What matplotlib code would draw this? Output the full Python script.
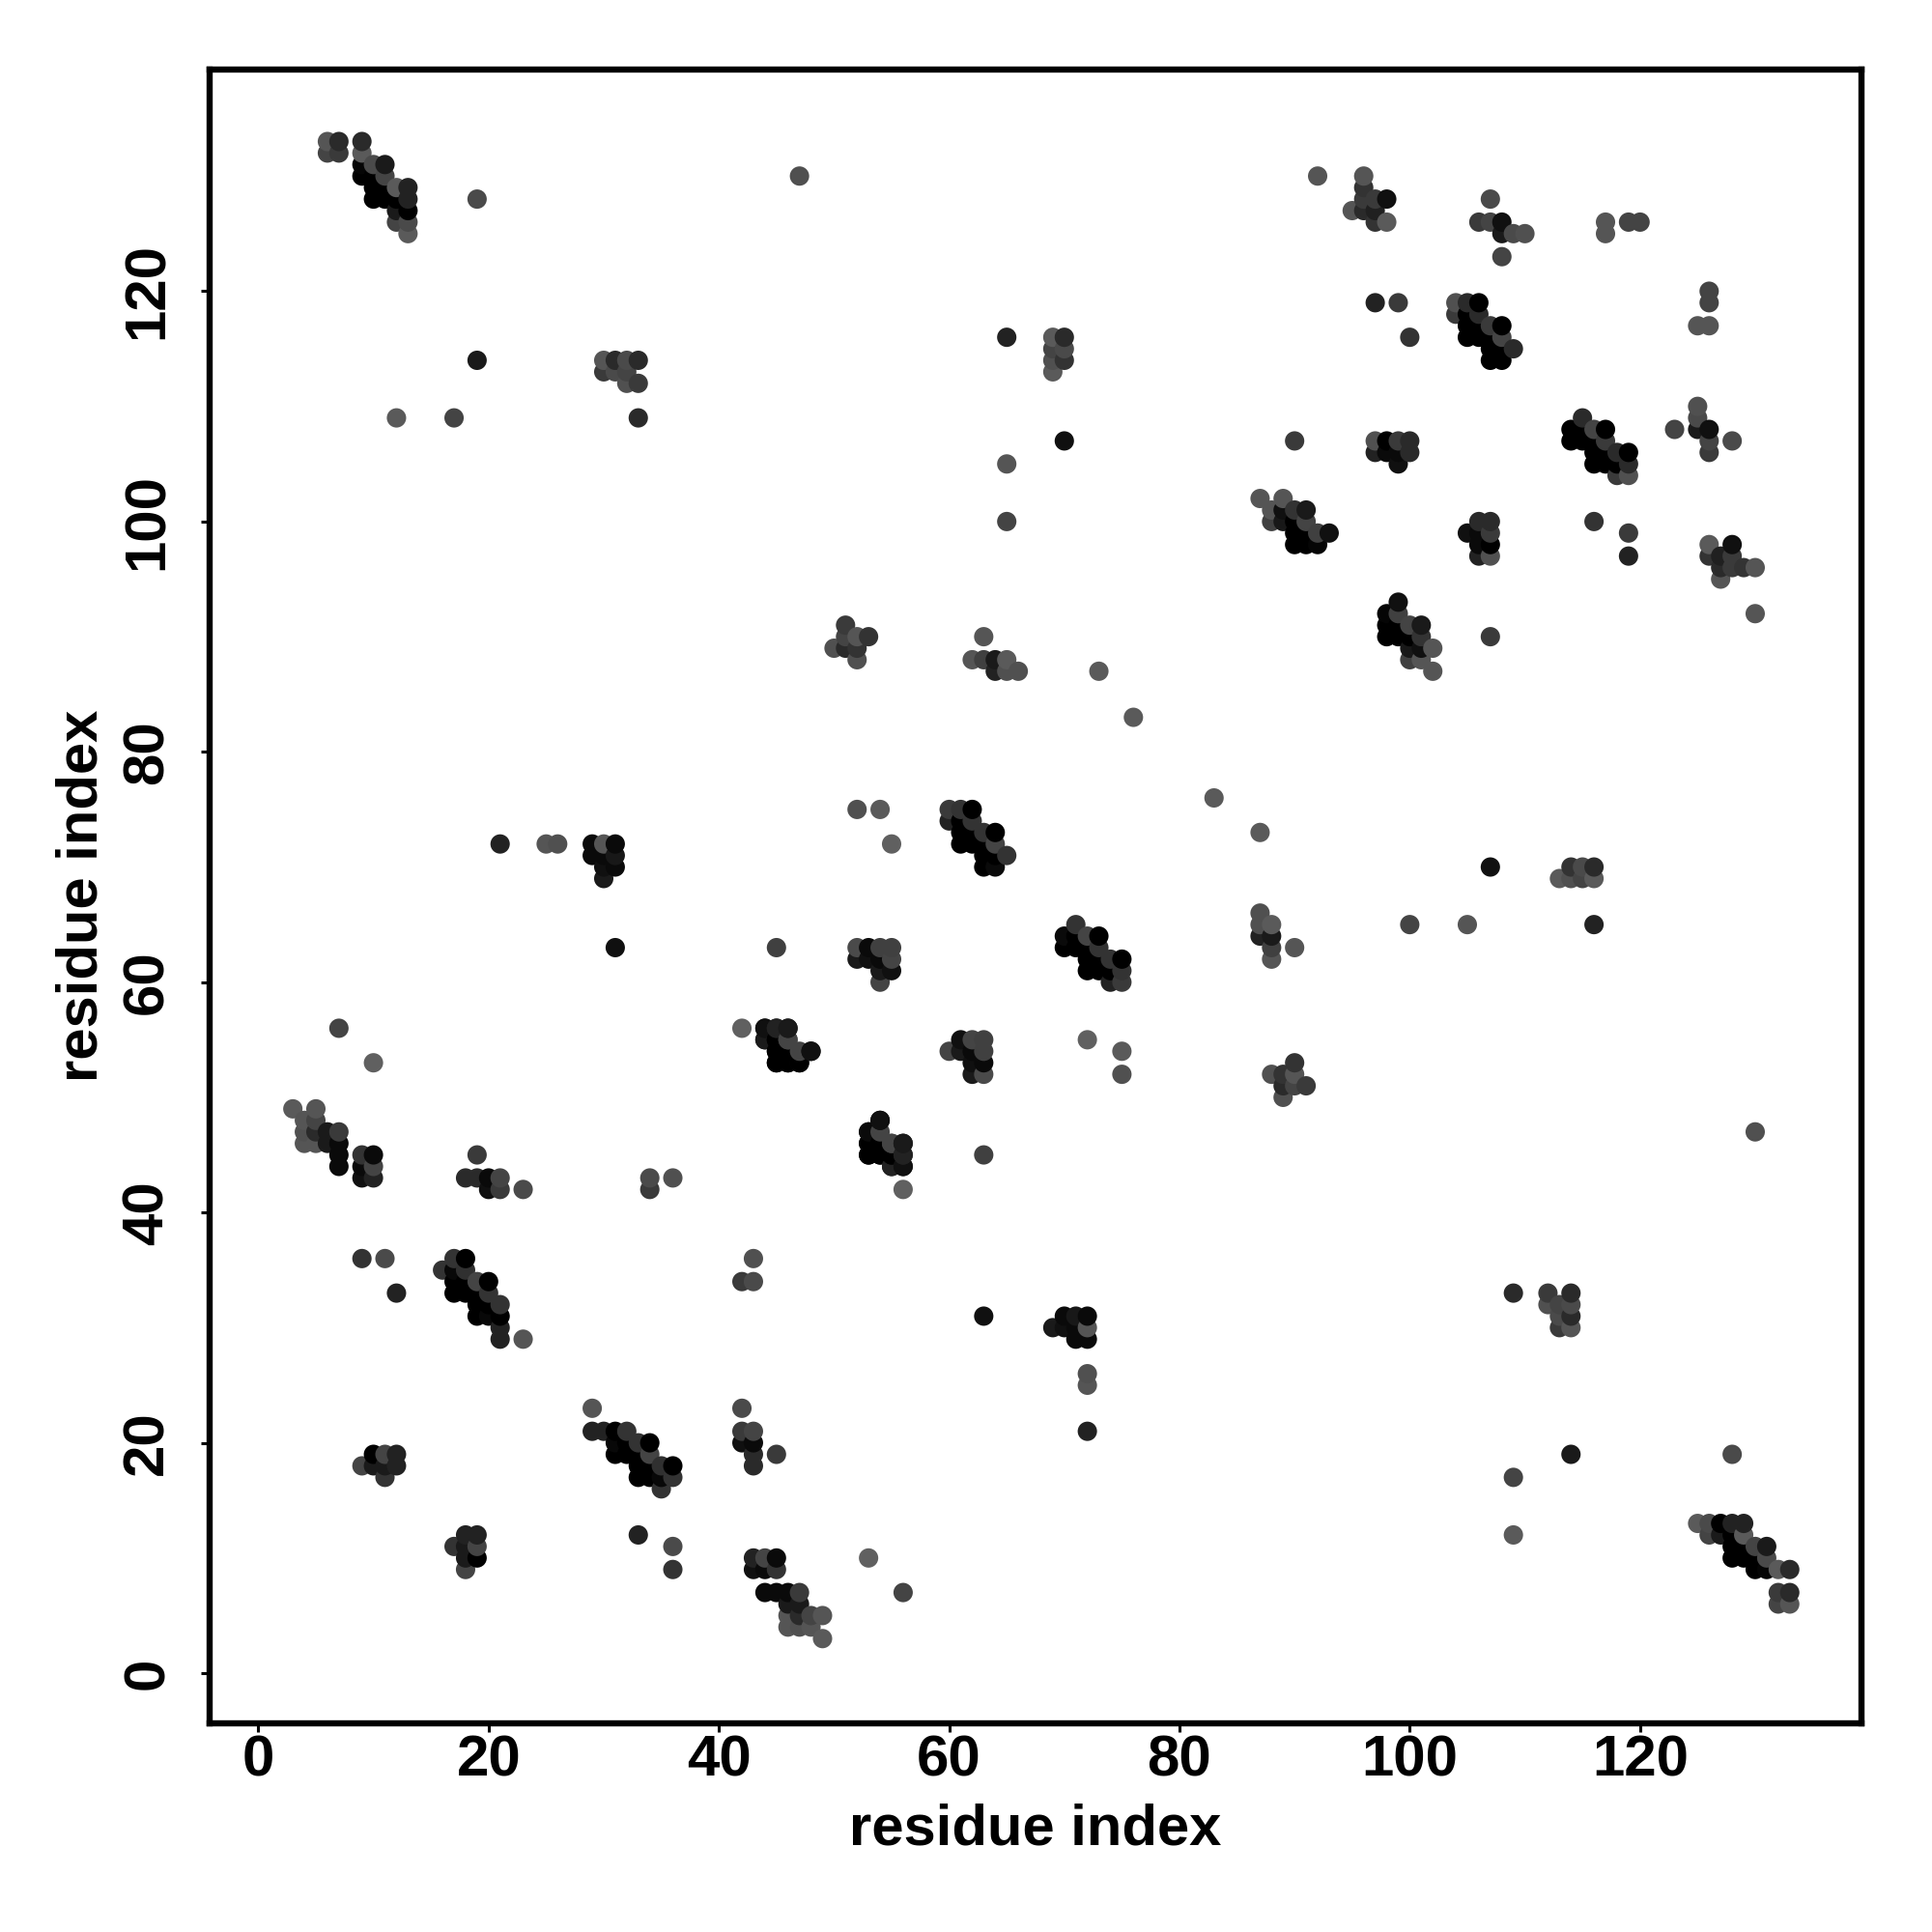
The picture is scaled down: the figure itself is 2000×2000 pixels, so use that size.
import matplotlib
matplotlib.use("Agg")
import matplotlib.pyplot as plt
import numpy as np

# contacts with i < j, the map is symmetric so the other half is mirrored below
res_i = [
    6, 7, 6, 7, 9, 9, 9, 9, 10, 11, 10, 11, 10, 11, 12, 13, 10, 11, 12, 13, 12, 13, 12, 13, 13,
    19, 19, 12, 17, 33, 30, 31, 32, 33, 30, 31, 32, 32, 33, 47,
    7, 10, 3, 5, 4, 5, 4, 5, 6, 7, 4, 5, 6, 7, 7, 7, 9, 10, 9, 10, 9, 10,
    19, 18, 19, 20, 21, 20, 21, 23, 34, 34, 36,
    10, 11, 12, 9, 10, 11, 12, 11, 9, 11, 12,
    16, 17, 18, 17, 18, 17, 18, 19, 20, 17, 18, 19, 20, 19, 20, 21, 19, 20, 21, 21, 21, 23,
    21, 25, 26, 29, 30, 31, 29, 30, 31, 30, 31, 30, 31,
    44, 45, 46, 44, 45, 46, 45, 46, 47, 48, 45, 46, 47,
    53, 54, 53, 54, 55, 56, 53, 54, 55, 56, 55, 56, 56, 45,
    52, 54, 55, 52, 53, 54, 55, 52, 53, 54, 55, 54, 55, 54,
    60, 61, 62, 60, 61, 62, 61, 62, 63, 64, 61, 62, 63, 64, 63, 64, 65, 63, 64, 76,
    65, 69, 70, 69, 70, 69, 70, 69, 70, 65, 65,
    51, 51, 52, 53, 50, 51, 52, 52, 63, 62, 63, 64, 65, 64, 65, 66, 73,
    87, 89, 88, 89, 90, 91, 88, 89, 90, 91, 90, 91, 92, 93, 90, 91, 92,
    97, 98, 99, 100, 97, 98, 99, 100, 99, 90, 97, 99, 100,
    104, 105, 106, 104, 105, 106, 105, 106, 107, 108, 105, 106, 107, 108, 107, 108, 109, 107, 108,
    92, 96, 96, 96, 97, 98, 95, 96, 97, 97, 98,
    107, 106, 107, 108, 108, 109, 110, 108, 117, 117, 119, 120,
]
res_j = [
    133, 133, 132, 132, 133, 132, 131, 130, 131, 131, 130, 130, 129, 129, 129, 129, 128, 128, 128, 128, 127, 127, 126, 126, 125,
    128, 114, 109, 109, 109, 114, 114, 114, 114, 113, 113, 113, 112, 112, 130,
    56, 53, 49, 49, 48, 48, 47, 47, 47, 47, 46, 46, 46, 46, 45, 44, 45, 45, 44, 44, 43, 43,
    45, 43, 43, 43, 43, 42, 42, 42, 43, 42, 43,
    19, 19, 19, 18, 18, 18, 18, 17, 36, 36, 33,
    35, 36, 36, 35, 35, 34, 34, 34, 34, 33, 33, 33, 33, 32, 32, 32, 31, 31, 31, 30, 29, 29,
    72, 72, 72, 72, 72, 72, 71, 71, 71, 70, 70, 69, 63,
    56, 56, 56, 55, 55, 55, 54, 54, 54, 54, 53, 53, 53,
    47, 48, 46, 46, 46, 46, 45, 45, 45, 45, 44, 44, 42, 63,
    75, 75, 72, 63, 63, 63, 63, 62, 62, 62, 62, 61, 61, 60,
    75, 75, 75, 74, 74, 74, 73, 73, 73, 73, 72, 72, 72, 72, 71, 71, 71, 70, 70, 83,
    116, 116, 116, 115, 115, 114, 114, 113, 107, 105, 100,
    91, 90, 90, 90, 89, 89, 89, 88, 90, 88, 88, 88, 88, 87, 87, 87, 87,
    102, 102, 101, 101, 101, 101, 100, 100, 100, 100, 99, 99, 99, 99, 98, 98, 98,
    107, 107, 107, 107, 106, 106, 106, 106, 105, 107, 119, 119, 116,
    119, 119, 119, 118, 118, 118, 117, 117, 117, 117, 116, 116, 116, 116, 115, 115, 115, 114, 114,
    130, 130, 129, 128, 128, 128, 127, 127, 127, 126, 126,
    128, 126, 126, 126, 125, 125, 125, 123, 126, 125, 126, 126,
]
# grey level of each contact, 0-255
gray = [
    0x55, 0x2a, 0x44, 0x3a, 0x2a, 0x5a, 0x05, 0x00, 0x4a, 0x1a, 0x00, 0x44, 0x00, 0x00, 0x5a, 0x22, 0x00, 0x00, 0x00, 0x22, 0x1a, 0x00, 0x44, 0x4a, 0x5a,
    0x4a, 0x1a, 0x5a, 0x44, 0x2a, 0x55, 0x2a, 0x4a, 0x2a, 0x3a, 0x4a, 0x44, 0x50, 0x3a, 0x50,
    0x44, 0x60, 0x5a, 0x55, 0x55, 0x44, 0x50, 0x2a, 0x1a, 0x3a, 0x55, 0x55, 0x1a, 0x0a, 0x0a, 0x0a, 0x33, 0x0a, 0x0a, 0x44, 0x10, 0x22,
    0x3a, 0x2a, 0x2a, 0x0a, 0x44, 0x10, 0x3a, 0x4a, 0x4a, 0x3a, 0x50,
    0x00, 0x44, 0x22, 0x44, 0x1a, 0x1a, 0x22, 0x33, 0x33, 0x4a, 0x22,
    0x33, 0x33, 0x00, 0x08, 0x30, 0x00, 0x00, 0x44, 0x00, 0x00, 0x00, 0x00, 0x33, 0x00, 0x00, 0x33, 0x00, 0x08, 0x00, 0x22, 0x22, 0x55,
    0x22, 0x55, 0x50, 0x0a, 0x55, 0x0a, 0x0a, 0x0a, 0x18, 0x10, 0x0a, 0x1a, 0x10,
    0x10, 0x22, 0x1a, 0x22, 0x00, 0x44, 0x00, 0x00, 0x44, 0x10, 0x00, 0x00, 0x0a,
    0x00, 0x10, 0x00, 0x00, 0x44, 0x1a, 0x00, 0x00, 0x00, 0x22, 0x1a, 0x10, 0x60, 0x40,
    0x50, 0x5a, 0x60, 0x4a, 0x0a, 0x40, 0x40, 0x1a, 0x10, 0x0a, 0x44, 0x1a, 0x10, 0x44,
    0x3a, 0x33, 0x00, 0x22, 0x00, 0x33, 0x00, 0x00, 0x33, 0x00, 0x00, 0x00, 0x00, 0x44, 0x00, 0x00, 0x33, 0x00, 0x0a, 0x5a,
    0x22, 0x5a, 0x2a, 0x44, 0x4a, 0x50, 0x33, 0x5a, 0x10, 0x55, 0x44,
    0x3a, 0x44, 0x55, 0x33, 0x50, 0x2a, 0x33, 0x50, 0x55, 0x55, 0x40, 0x1a, 0x5a, 0x22, 0x50, 0x50, 0x5a,
    0x55, 0x55, 0x55, 0x10, 0x33, 0x1a, 0x40, 0x18, 0x00, 0x44, 0x00, 0x00, 0x40, 0x10, 0x00, 0x00, 0x05,
    0x50, 0x00, 0x3a, 0x2a, 0x22, 0x0a, 0x0a, 0x2a, 0x10, 0x3a, 0x22, 0x3a, 0x33,
    0x50, 0x2a, 0x00, 0x3a, 0x00, 0x2a, 0x00, 0x00, 0x3a, 0x00, 0x00, 0x00, 0x00, 0x44, 0x00, 0x00, 0x2a, 0x00, 0x00,
    0x55, 0x55, 0x33, 0x3a, 0x3a, 0x10, 0x55, 0x2a, 0x20, 0x33, 0x5a,
    0x4a, 0x3a, 0x44, 0x10, 0x1a, 0x4a, 0x50, 0x44, 0x55, 0x55, 0x44, 0x44,
]
x_ticks = [0, 20, 40, 60, 80, 100, 120]
y_ticks = [0, 20, 40, 60, 80, 100, 120]
axis_label = "residue index"

plt.rcParams["font.family"] = ["Liberation Sans", "DejaVu Sans"]
plt.rcParams["font.weight"] = "bold"

res_i = np.array(res_i)
res_j = np.array(res_j)
gray = np.array(gray) / 255

# both halves, drawn column by column so overlaps stack like the original
xs = np.concatenate([res_i, res_j])
ys = np.concatenate([res_j, res_i])
gs = np.concatenate([gray, gray])
order = np.lexsort((ys, xs))

fig = plt.figure(figsize=(10, 10), dpi=200)
ax = fig.add_axes([216.5 / 2000, 1 - 1784 / 2000, (1927 - 216.5) / 2000, (1784 - 71.5) / 2000])
ax.scatter(xs[order], ys[order], s=52, c=[str(g) for g in gs[order]], linewidths=0, clip_on=False)

ax.set_xlim(-4.27, 139.23)
ax.set_ylim(-4.36, 139.29)
ax.set_xticks(x_ticks)
ax.set_yticks(y_ticks)
ax.tick_params(length=3.2, width=1.1, labelsize=21.6, color="k")
ax.tick_params(axis="x", pad=1.1)
ax.tick_params(axis="y", pad=9.7)
for t in ax.get_yticklabels():
    t.set_rotation(90)
    t.set_va("center")
for s in ax.spines.values():
    s.set_linewidth(2.3)

fig.text(1072 / 2000, 1 - 1909 / 2000, axis_label, fontsize=21.5, ha="center", va="baseline")
fig.text(101 / 2000, 1 - 927 / 2000, axis_label, fontsize=21.5, ha="center", va="baseline",
         rotation=90, rotation_mode="anchor")

fig.savefig("out.png", dpi=200)
